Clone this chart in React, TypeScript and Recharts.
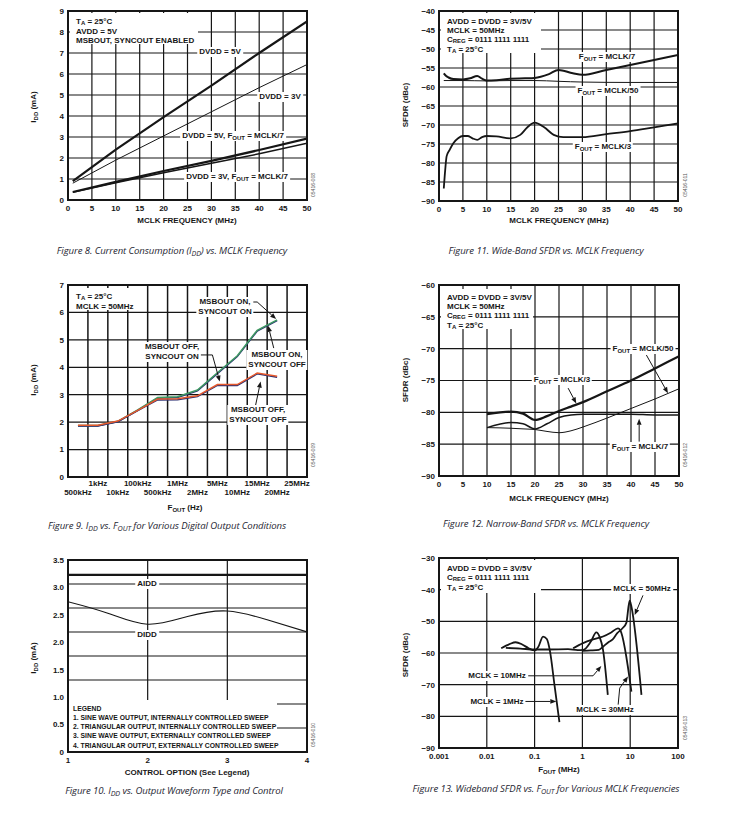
import React from 'react';
import { LineChart, Line, XAxis, YAxis, CartesianGrid, ReferenceLine } from 'recharts';

const FONT = '"Liberation Sans", Arial, sans-serif';
const CAPTION_FONT = '"Open Sans", "Noto Sans", sans-serif';
const INK = '#161616';

// Figure 8: IDD vs MCLK frequency
const fig8Mclk = [1, 10, 20, 30, 40, 50];
const fig8Dvdd5 = [0.9, 2.4, 3.95, 5.45, 7.0, 8.5];
const fig8Dvdd3 = [0.8, 1.9, 3.05, 4.2, 5.35, 6.45];
const fig8Dvdd5Div7 = [0.38, 0.86, 1.38, 1.86, 2.38, 2.92];
const fig8Dvdd3Div7 = [0.36, 0.82, 1.3, 1.75, 2.2, 2.7];
const fig8XTicks = [0, 5, 10, 15, 20, 25, 30, 35, 40, 45, 50];
const fig8YTicks = [0, 1, 2, 3, 4, 5, 6, 7, 8, 9];

// Figure 11: wide-band SFDR vs MCLK
const fig11Div7X = [1, 1.5, 2, 3, 5, 6.5, 8, 9, 10, 12, 15, 18, 20, 23, 25, 28, 30, 35, 40, 45, 50];
const fig11Div7 = [-56.4, -57.1, -57.5, -57.9, -58.0, -57.7, -57.1, -57.8, -58.3, -58.2, -57.8, -57.7, -57.6, -56.6, -55.5, -56.4, -56.8, -55.5, -54.2, -52.9, -51.6];
const fig11Div50X = [1, 5, 10, 15, 20, 25, 30, 40, 50];
const fig11Div50 = [-58.3, -58.3, -58.4, -58.3, -58.3, -58.5, -58.7, -58.8, -58.8];
const fig11Div3X = [1, 1.3, 1.6, 2.2, 3, 4, 5, 6, 7, 8, 9, 10, 12, 15, 17, 18.5, 20, 22, 24, 26, 30, 35, 40, 45, 50];
const fig11Div3 = [-86.7, -81.8, -78.2, -76.6, -74.8, -73.5, -72.9, -72.9, -73.5, -73.9, -73.2, -72.9, -73.0, -73.5, -72.6, -70.6, -69.4, -70.6, -72.6, -73.2, -73.2, -72.4, -71.6, -70.6, -69.6];
const fig11YTicks = [-90, -85, -80, -75, -70, -65, -60, -55, -50, -45, -40];

// Figure 9: IDD vs FOUT
const fig9Labels = ['500kHz', '1kHz', '10kHz', '100kHz', '500kHz', '1MHz', '2MHz', '5MHz', '10MHz', '15MHz', '20MHz', '25MHz'];
const fig9Idx = [0, 1, 2, 3, 4, 5, 6, 7, 8, 9, 10];
const fig9OnOn = [1.88, 1.88, 2.03, 2.45, 2.9, 2.93, 3.17, 3.8, 4.42, 5.35, 5.73];
const fig9OnOff = [1.86, 1.86, 2.01, 2.43, 2.87, 2.9, 3.14, 3.77, 4.39, 5.32, 5.7];
const fig9OffOn = [1.87, 1.87, 2.02, 2.42, 2.81, 2.82, 2.93, 3.34, 3.34, 3.76, 3.64];
const fig9OffOff = [1.89, 1.89, 2.04, 2.43, 2.84, 2.85, 2.96, 3.37, 3.37, 3.79, 3.67];
const fig9Bands = [0.5, 1.5, 2.5, 3.5, 4.5, 5.5, 6.5, 7.5, 8.5, 9.5, 10.5];
const fig9YTicks = [0, 1, 2, 3, 4, 5, 6, 7];
const fig9Arrows = [
  [[8.7, 6.38], [9.0, 6.38], [9.95, 5.76]],
  [[9.83, 4.7], [9.55, 5.51]],
  [[6.1, 4.45], [6.75, 4.45], [7.12, 3.48]],
  [[8.92, 2.62], [9.17, 3.48]],
];

// Figure 12: narrow-band SFDR vs MCLK
const fig12X = [10, 15, 17.5, 20, 22.5, 25, 27.5, 30, 35, 40, 45, 50];
const fig12Div3 = [-80.3, -79.9, -80.2, -81.2, -80.6, -79.8, -79.1, -78.4, -76.7, -75.0, -73.1, -71.2];
const fig12Div7 = [-82.4, -81.6, -81.8, -82.6, -81.8, -80.8, -80.4, -80.3, -80.3, -80.3, -80.4, -80.4];
const fig12Div50 = [-82.4, -82.5, -82.6, -82.7, -83.0, -83.2, -82.9, -82.3, -80.9, -79.4, -77.9, -76.3];
const fig12YTicks = [-90, -85, -80, -75, -70, -65, -60];
const fig12Arrows = [
  [[43.2, -71.0], [47.7, -77.0]],
  [[26.9, -76.2], [28.6, -78.6]],
  [[41.7, -84.6], [41.7, -81.0]],
];

// Figure 10: IDD vs waveform/control option
const fig10X = [1, 1.5, 2, 2.5, 3, 3.5, 4];
const fig10Didd = [2.74, 2.53, 2.33, 2.47, 2.57, 2.41, 2.19];
const fig10AiddX = [1, 2, 3, 4];
const fig10Aidd = [3.23, 3.23, 3.23, 3.23];
const fig10YTicks = [0, 0.5, 1, 1.5, 2, 2.5, 3, 3.5];
const fig10GridY = [0.4375, 0.875, 1.3125, 1.75, 2.1875, 2.625, 3.0625];
const fig10Legend = [
  '1. SINE WAVE OUTPUT, INTERNALLY CONTROLLED SWEEP',
  '2. TRIANGULAR OUTPUT, INTERNALLY CONTROLLED SWEEP',
  '3. SINE WAVE OUTPUT, EXTERNALLY CONTROLLED SWEEP',
  '4. TRIANGULAR OUTPUT, EXTERNALLY CONTROLLED SWEEP',
];

// Figure 13: wideband SFDR vs FOUT
const fig13M1X = [0.02, 0.03, 0.04, 0.055, 0.075, 0.1, 0.12, 0.15, 0.18, 0.21, 0.26, 0.33];
const fig13M1 = [-58.5, -57.2, -56.6, -57.3, -58.5, -59.2, -58.0, -54.8, -55.6, -59.5, -70.0, -81.8];
const fig13M10X = [0.025, 0.05, 0.1, 0.2, 0.5, 0.8, 1.05, 1.5, 1.95, 2.3, 2.7, 3.4];
const fig13M10 = [-58.4, -58.6, -58.9, -58.9, -58.8, -59.1, -59.0, -56.4, -53.5, -55.0, -59.0, -73.2];
const fig13M30X = [0.64, 1.03, 1.6, 2.7, 4.0, 5.55, 6.2, 10.6];
const fig13M30 = [-58.5, -56.9, -55.8, -54.8, -53.5, -52.2, -52.8, -72.2];
const fig13M50X = [1, 1.5, 2.2, 2.7, 3.5, 4.3, 5.3, 6.9, 8.3, 9.3, 9.8, 10.3, 17.2];
const fig13M50 = [-59.3, -59.2, -59.0, -58.0, -56.6, -55.7, -53.8, -52.2, -50.5, -45.0, -43.5, -44.5, -73.2];
const fig13XTicks = [0.001, 0.01, 0.1, 1, 10, 100];
const fig13YTicks = [-90, -80, -70, -60, -50, -40, -30];
const fig13Arrows = [
  [[18.5, -41.8], [12.4, -48.0]],
  [[0.065, -67.2], [1.67, -67.2], [2.49, -64.1]],
  [[0.06, -75.3], [0.285, -75.3]],
  [[5.6, -76.3], [6.03, -71.1], [9.0, -67.4]],
];

type Box = { L: number; T: number; R: number; B: number };
const box8: Box = { L: 68, T: 11, R: 307, B: 200 };
const box11: Box = { L: 439, T: 11, R: 678, B: 201 };
const box9: Box = { L: 68, T: 285, R: 307, B: 477 };
const box12: Box = { L: 439, T: 285, R: 679, B: 476 };
const box10: Box = { L: 68, T: 560, R: 307, B: 752 };
const box13: Box = { L: 439, T: 558, R: 678, B: 748 };

const YW = 45;
const XH = 25;
const PT = 5;
const PR = 10;

const pairs = (xs: number[], ys: number[]) => xs.map((x, i) => ({ x, y: ys[i] }));
const fmt = (v: number) => (v < 0 ? '\u2212' + Math.abs(v) : String(v));
const tickStyle = { fontSize: 8, fontWeight: 700, fill: INK, fontFamily: FONT };
const gridStroke = { stroke: INK, strokeWidth: 1.2 };

const plainShape = (p: any) => <line x1={p.x1} y1={p.y1} x2={p.x2} y2={p.y2} stroke={INK} strokeWidth={1} />;
const headShape = (p: any) => {
  const a = Math.atan2(p.y2 - p.y1, p.x2 - p.x1);
  const len = 6;
  const w = 2.4;
  const bx = p.x2 - len * Math.cos(a);
  const by = p.y2 - len * Math.sin(a);
  const px = -Math.sin(a) * w;
  const py = Math.cos(a) * w;
  return (
    <g>
      <line x1={p.x1} y1={p.y1} x2={bx} y2={by} stroke={INK} strokeWidth={1} />
      <polygon points={`${p.x2},${p.y2} ${bx + px},${by + py} ${bx - px},${by - py}`} fill={INK} />
    </g>
  );
};

const arrows = (polys: number[][][]) =>
  polys.flatMap((poly, pi) =>
    poly.slice(1).map((pt, i) => (
      <ReferenceLine
        key={`a${pi}-${i}`}
        ifOverflow="visible"
        segment={[{ x: poly[i][0], y: poly[i][1] }, { x: pt[0], y: pt[1] }]}
        shape={i === poly.length - 2 ? headShape : plainShape}
      />
    )),
  );

function Chart({ box, children }: { box: Box; children: React.ReactNode }) {
  return (
    <div style={{ position: 'absolute', left: box.L - YW, top: box.T - PT }}>
      <LineChart
        width={box.R - box.L + YW + PR}
        height={box.B - box.T + PT + XH}
        margin={{ top: PT, right: PR, bottom: 0, left: 0 }}
      >
        {children}
      </LineChart>
    </div>
  );
}

const Sub = ({ children }: { children: React.ReactNode }) => (
  <span style={{ fontSize: '0.75em', position: 'relative', top: '0.3em' }}>{children}</span>
);

function Lbl({ x, y, children }: { x: number; y: number; children: React.ReactNode }) {
  return (
    <div
      style={{
        position: 'absolute', left: x, top: y, transform: 'translate(-50%, -50%)',
        font: `700 8px ${FONT}`, color: INK, background: '#fff', padding: '0 2px',
        whiteSpace: 'nowrap', lineHeight: '10px', textAlign: 'center',
      }}
    >
      {children}
    </div>
  );
}

function Note({ x, y, w, h, lines }: { x: number; y: number; w: number; h: number; lines: React.ReactNode[] }) {
  return (
    <div
      style={{
        position: 'absolute', left: x, top: y, width: w, height: h, background: '#fff',
        font: `700 8px ${FONT}`, color: INK, lineHeight: '9px', padding: '3.5px 0 0 6px',
        boxSizing: 'border-box', whiteSpace: 'nowrap',
      }}
    >
      {lines.map((l, i) => <div key={i}>{l}</div>)}
    </div>
  );
}

function Title({ x, y, v, children }: { x: number; y: number; v?: boolean; children: React.ReactNode }) {
  return (
    <div
      style={{
        position: 'absolute', left: x, top: y,
        transform: `translate(-50%, -50%)${v ? ' rotate(-90deg)' : ''}`,
        font: `700 8px ${FONT}`, color: INK, whiteSpace: 'nowrap',
      }}
    >
      {children}
    </div>
  );
}

function Code({ x, y, text }: { x: number; y: number; text: string }) {
  return (
    <div
      style={{
        position: 'absolute', left: x, top: y, transform: 'translate(-50%, -50%) rotate(-90deg)',
        font: `5px ${FONT}`, color: '#555', whiteSpace: 'nowrap',
      }}
    >
      {text}
    </div>
  );
}

function Caption({ x, y, children }: { x: number; y: number; children: React.ReactNode }) {
  return (
    <div
      style={{
        position: 'absolute', left: x, top: y, transform: 'translate(-50%, -50%)',
        font: `italic 9.6px ${CAPTION_FONT}`, color: '#1f1f33', whiteSpace: 'nowrap', letterSpacing: '-0.1px',
      }}
    >
      {children}
    </div>
  );
}

function Border({ box }: { box: Box }) {
  return (
    <div
      style={{
        position: 'absolute', left: box.L - 1, top: box.T - 1, width: box.R - box.L + 2,
        height: box.B - box.T + 2, border: `2px solid ${INK}`, boxSizing: 'border-box',
      }}
    />
  );
}

const Fig9Tick = (p: any) => {
  const v = p.payload.value;
  const upper = v % 2 === 1;
  return (
    <text x={p.x} y={p.y + (upper ? 4.5 : 14)} textAnchor="middle" {...tickStyle}>
      {fig9Labels[v]}
    </text>
  );
};

const axisCommon = { tickLine: false, axisLine: false, tickSize: 2, tickMargin: 2, interval: 0 as const, allowDataOverflow: true };

export default function App() {
  const f8 = fig8Mclk.map((x, i) => ({ x, a: fig8Dvdd5[i], b: fig8Dvdd3[i], c: fig8Dvdd5Div7[i], d: fig8Dvdd3Div7[i] }));
  const f9 = fig9Idx.map((x, i) => ({ x, onOn: fig9OnOn[i], onOff: fig9OnOff[i], offOn: fig9OffOn[i], offOff: fig9OffOff[i] }));
  const f12 = fig12X.map((x, i) => ({ x, a: fig12Div3[i], b: fig12Div7[i], c: fig12Div50[i] }));

  return (
    <div style={{ position: 'relative', width: 747, height: 814, background: '#fff', overflow: 'hidden' }}>
      <style>{'body{margin:0}'}</style>

      {/* Figure 8 */}
      <Chart box={box8}>
        <CartesianGrid {...gridStroke} />
        <XAxis type="number" dataKey="x" domain={[0, 50]} ticks={fig8XTicks} tick={tickStyle} height={XH} {...axisCommon} tickSize={3} />
        <YAxis type="number" domain={[0, 9]} ticks={fig8YTicks} tick={tickStyle} width={YW} {...axisCommon} />
        <Line data={f8} dataKey="a" type="linear" stroke={INK} strokeWidth={2.2} dot={false} isAnimationActive={false} />
        <Line data={f8} dataKey="b" type="linear" stroke={INK} strokeWidth={1} dot={false} isAnimationActive={false} />
        <Line data={f8} dataKey="c" type="linear" stroke={INK} strokeWidth={2.2} dot={false} isAnimationActive={false} />
        <Line data={f8} dataKey="d" type="linear" stroke={INK} strokeWidth={1.4} dot={false} isAnimationActive={false} />
      </Chart>

      {/* Figure 11 */}
      <Chart box={box11}>
        <CartesianGrid {...gridStroke} />
        <XAxis type="number" dataKey="x" domain={[0, 50]} ticks={fig8XTicks} tick={tickStyle} height={XH} {...axisCommon} tickSize={3} />
        <YAxis type="number" domain={[-90, -40]} ticks={fig11YTicks} tickFormatter={fmt} tick={tickStyle} width={YW} {...axisCommon} />
        <Line data={pairs(fig11Div50X, fig11Div50)} dataKey="y" type="monotone" stroke={INK} strokeWidth={1} dot={false} isAnimationActive={false} />
        <Line data={pairs(fig11Div7X, fig11Div7)} dataKey="y" type="monotone" stroke={INK} strokeWidth={2} dot={false} isAnimationActive={false} />
        <Line data={pairs(fig11Div3X, fig11Div3)} dataKey="y" type="monotone" stroke={INK} strokeWidth={1.8} dot={false} isAnimationActive={false} />
      </Chart>

      {/* Figure 9 */}
      <Chart box={box9}>
        <CartesianGrid {...gridStroke} vertical={false} />
        {fig9Bands.map((b) => (
          <ReferenceLine key={b} x={b} stroke={INK} strokeWidth={1.5} />
        ))}
        <XAxis type="number" dataKey="x" domain={[-0.5, 11.5]} ticks={[0, 1, 2, 3, 4, 5, 6, 7, 8, 9, 10, 11]} tick={Fig9Tick} height={XH} {...axisCommon} />
        <YAxis type="number" domain={[0, 7]} ticks={fig9YTicks} tick={tickStyle} width={YW} {...axisCommon} />
        <Line data={f9} dataKey="onOff" type="linear" stroke="#2b2f72" strokeWidth={1.5} dot={false} isAnimationActive={false} />
        <Line data={f9} dataKey="onOn" type="linear" stroke="#3f9a62" strokeWidth={1.5} dot={false} isAnimationActive={false} />
        <Line data={f9} dataKey="offOn" type="linear" stroke="#2b2f72" strokeWidth={1.5} dot={false} isAnimationActive={false} />
        <Line data={f9} dataKey="offOff" type="linear" stroke="#e65a2c" strokeWidth={1.5} dot={false} isAnimationActive={false} />
        {arrows(fig9Arrows)}
      </Chart>

      {/* Figure 12 */}
      <Chart box={box12}>
        <CartesianGrid {...gridStroke} />
        <XAxis type="number" dataKey="x" domain={[0, 50]} ticks={fig8XTicks} tick={tickStyle} height={XH} {...axisCommon} tickSize={3} />
        <YAxis type="number" domain={[-90, -60]} ticks={fig12YTicks} tickFormatter={fmt} tick={tickStyle} width={YW} {...axisCommon} />
        <Line data={f12} dataKey="c" type="monotone" stroke={INK} strokeWidth={1} dot={false} isAnimationActive={false} />
        <Line data={f12} dataKey="b" type="monotone" stroke={INK} strokeWidth={1.5} dot={false} isAnimationActive={false} />
        <Line data={f12} dataKey="a" type="monotone" stroke={INK} strokeWidth={2.2} dot={false} isAnimationActive={false} />
        {arrows(fig12Arrows)}
      </Chart>

      {/* Figure 10 */}
      <Chart box={box10}>
        {fig10GridY.map((g) => (
          <ReferenceLine key={g} y={g} stroke={INK} strokeWidth={1.2} />
        ))}
        <ReferenceLine x={2} stroke={INK} strokeWidth={1.2} />
        <ReferenceLine x={3} stroke={INK} strokeWidth={1.2} />
        <XAxis type="number" dataKey="x" domain={[1, 4]} ticks={[1, 2, 3, 4]} tick={tickStyle} height={XH} {...axisCommon} tickSize={3} />
        <YAxis type="number" domain={[0, 3.5]} ticks={fig10YTicks} tickFormatter={(v: number) => (v === 0 ? '0' : v.toFixed(1))} tick={tickStyle} width={YW} {...axisCommon} />
        <Line data={pairs(fig10AiddX, fig10Aidd)} dataKey="y" type="linear" stroke={INK} strokeWidth={2.2} dot={false} isAnimationActive={false} />
        <Line data={pairs(fig10X, fig10Didd)} dataKey="y" type="natural" stroke={INK} strokeWidth={1.1} dot={false} isAnimationActive={false} />
      </Chart>

      {/* Figure 13 */}
      <Chart box={box13}>
        <CartesianGrid {...gridStroke} />
        <XAxis type="number" dataKey="x" scale="log" domain={[0.001, 100]} ticks={fig13XTicks} tick={tickStyle} height={XH} {...axisCommon} tickSize={3} />
        <YAxis type="number" domain={[-90, -30]} ticks={fig13YTicks} tickFormatter={fmt} tick={tickStyle} width={YW} {...axisCommon} />
        <Line data={pairs(fig13M1X, fig13M1)} dataKey="y" type="monotone" stroke={INK} strokeWidth={1.8} dot={false} isAnimationActive={false} />
        <Line data={pairs(fig13M10X, fig13M10)} dataKey="y" type="monotone" stroke={INK} strokeWidth={1.8} dot={false} isAnimationActive={false} />
        <Line data={pairs(fig13M30X, fig13M30)} dataKey="y" type="monotone" stroke={INK} strokeWidth={1.8} dot={false} isAnimationActive={false} />
        <Line data={pairs(fig13M50X, fig13M50)} dataKey="y" type="monotone" stroke={INK} strokeWidth={1.8} dot={false} isAnimationActive={false} />
        {arrows(fig13Arrows)}
      </Chart>

      {/* frames */}
      {[box8, box11, box9, box12, box10, box13].map((b, i) => <Border key={i} box={b} />)}

      {/* Figure 8 text */}
      <Note x={70} y={13} w={128} h={31} lines={[<>T<Sub>A</Sub> = 25°C</>, 'AVDD = 5V', 'MSBOUT, SYNCOUT ENABLED']} />
      <Lbl x={220} y={52}>DVDD = 5V</Lbl>
      <Lbl x={280} y={97}>DVDD = 3V</Lbl>
      <Lbl x={233} y={136}>DVDD = 5V, F<Sub>OUT</Sub> = MCLK/7</Lbl>
      <Lbl x={237} y={177}>DVDD = 3V, F<Sub>OUT</Sub> = MCLK/7</Lbl>
      <Title x={33} y={107} v>I<Sub>DD</Sub> (mA)</Title>
      <Title x={187} y={220}>MCLK FREQUENCY (MHz)</Title>
      <Code x={313} y={185} text="05416-008" />
      <Caption x={172} y={250}>Figure 8. Current Consumption (I<Sub>DD</Sub>) vs. MCLK Frequency</Caption>

      {/* Figure 11 text */}
      <Note x={441} y={13} w={100} h={40} lines={['AVDD = DVDD = 3V/5V', 'MCLK = 50MHz', <>C<Sub>REG</Sub> = 0111 1111 1111</>, <>T<Sub>A</Sub> = 25°C</>]} />
      <Lbl x={607} y={57}>F<Sub>OUT</Sub> = MCLK/7</Lbl>
      <Lbl x={608} y={91}>F<Sub>OUT</Sub> = MCLK/50</Lbl>
      <Lbl x={603} y={147}>F<Sub>OUT</Sub> = MCLK/3</Lbl>
      <Title x={405} y={105} v>SFDR (dBc)</Title>
      <Title x={559} y={220}>MCLK FREQUENCY (MHz)</Title>
      <Code x={685} y={185} text="05416-011" />
      <Caption x={546} y={250}>Figure 11. Wide-Band SFDR vs. MCLK Frequency</Caption>

      {/* Figure 9 text */}
      <Note x={70} y={288} w={70} h={22} lines={[<>T<Sub>A</Sub> = 25°C</>, 'MCLK = 50MHz']} />
      <Lbl x={225} y={307}>MSBOUT ON,<br />SYNCOUT ON</Lbl>
      <Lbl x={172} y={352}>MSBOUT OFF,<br />SYNCOUT ON</Lbl>
      <Lbl x={277} y={360}>MSBOUT ON,<br />SYNCOUT OFF</Lbl>
      <Lbl x={258} y={415}>MSBOUT OFF,<br />SYNCOUT OFF</Lbl>
      <Title x={33} y={380} v>I<Sub>DD</Sub> (mA)</Title>
      <Title x={185} y={507}>F<Sub>OUT</Sub> (Hz)</Title>
      <Code x={313} y={455} text="05416-009" />
      <Caption x={167} y={525}>Figure 9. I<Sub>DD</Sub> vs. F<Sub>OUT</Sub> for Various Digital Output Conditions</Caption>

      {/* Figure 12 text */}
      <Note x={441} y={289} w={92} h={40} lines={['AVDD = DVDD = 3V/5V', 'MCLK = 50MHz', <>C<Sub>REG</Sub> = 0111 1111 1111</>, <>T<Sub>A</Sub> = 25°C</>]} />
      <Lbl x={643} y={349}>F<Sub>OUT</Sub> = MCLK/50</Lbl>
      <Lbl x={562} y={380}>F<Sub>OUT</Sub> = MCLK/3</Lbl>
      <Lbl x={640} y={447}>F<Sub>OUT</Sub> = MCLK/7</Lbl>
      <Title x={405} y={380} v>SFDR (dBc)</Title>
      <Title x={559} y={498}>MCLK FREQUENCY (MHz)</Title>
      <Code x={685} y={455} text="05416-012" />
      <Caption x={546} y={523}>Figure 12. Narrow-Band SFDR vs. MCLK Frequency</Caption>

      {/* Figure 10 text */}
      <Lbl x={147} y={584}>AIDD</Lbl>
      <Lbl x={147} y={635}>DIDD</Lbl>
      <div
        style={{
          position: 'absolute', left: 69, top: 700, width: 208, height: 51, background: '#fff',
          font: `700 6.8px ${FONT}`, color: INK, lineHeight: '9.3px', padding: '3.5px 0 0 4px',
          boxSizing: 'border-box', whiteSpace: 'nowrap',
        }}
      >
        <div>LEGEND</div>
        {fig10Legend.map((t) => <div key={t}>{t}</div>)}
      </div>
      <Title x={33} y={658} v>I<Sub>DD</Sub> (mA)</Title>
      <Title x={187} y={772}>CONTROL OPTION (See Legend)</Title>
      <Code x={313} y={735} text="05416-010" />
      <Caption x={174} y={790}>Figure 10. I<Sub>DD</Sub> vs. Output Waveform Type and Control</Caption>

      {/* Figure 13 text */}
      <Note x={441} y={560} w={100} h={33} lines={['AVDD = DVDD = 3V/5V', <>C<Sub>REG</Sub> = 0111 1111 1111</>, <>T<Sub>A</Sub> = 25°C</>]} />
      <Lbl x={642} y={589}>MCLK = 50MHz</Lbl>
      <Lbl x={497} y={676}>MCLK = 10MHz</Lbl>
      <Lbl x={497} y={702}>MCLK = 1MHz</Lbl>
      <Lbl x={605} y={710}>MCLK = 30MHz</Lbl>
      <Title x={405} y={655} v>SFDR (dBc)</Title>
      <Title x={559} y={769}>F<Sub>OUT</Sub> (MHz)</Title>
      <Code x={685} y={728} text="05416-013" />
      <Caption x={546} y={788}>Figure 13. Wideband SFDR vs. F<Sub>OUT</Sub> for Various MCLK Frequencies</Caption>
    </div>
  );
}
